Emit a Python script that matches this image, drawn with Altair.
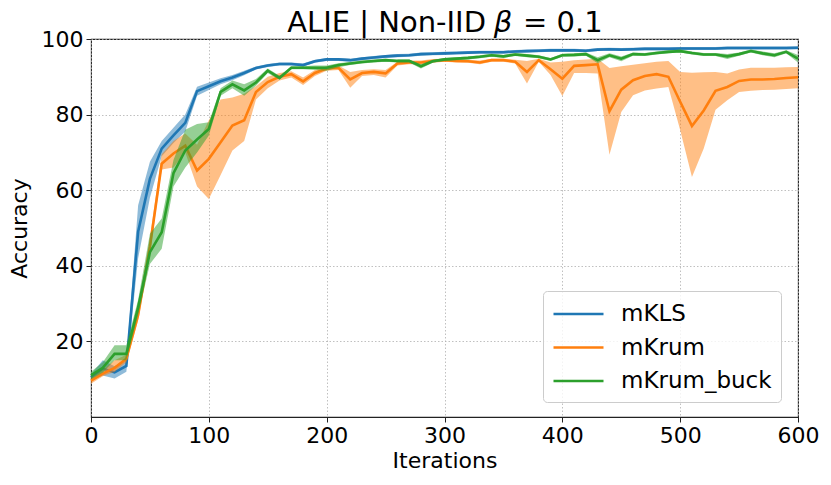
import altair as alt
import pandas as pd

iterations = list(range(0, 601, 10))
series_names = ["mKLS", "mKrum", "mKrum_buck"]
colors = ["#1f77b4", "#ff7f0e", "#2ca02c"]

mkls_mean = [10.5, 12.8, 11.8, 13.5, 49, 63, 71, 74.5, 77.8, 86.2,
             87.5, 88.8, 89.8, 91, 92.3, 93, 93.4, 93.4, 93.1, 94.1,
             94.6, 94.6, 94.4, 94.8, 95.1, 95.4, 95.6, 95.7, 96, 96.1,
             96.2, 96.3, 96.4, 96.5, 96.5, 96.5, 96.7, 96.8, 96.9, 97,
             97, 97, 96.9, 97.2, 97.3, 97.2, 97.3, 97.4, 97.4, 97.4,
             97.5, 97.5, 97.5, 97.5, 97.6, 97.6, 97.6, 97.6, 97.6, 97.6, 97.7]
mkls_lo = [9.7, 11, 10.2, 12, 42, 58, 69, 72.5, 75.5, 85,
           86.5, 88, 89.1, 90.4, 91.9, 92.6, 93.0, 93.0, 92.7, 93.7,
           94.2, 94.2, 94.0, 94.4, 94.7, 95.0, 95.2, 95.3, 95.6, 95.7,
           95.8, 95.9, 96.0, 96.1, 96.1, 96.1, 96.3, 96.4, 96.5, 96.6,
           96.6, 96.6, 96.5, 96.8, 96.9, 96.8, 96.9, 97.0, 97.0, 97.0,
           97.1, 97.1, 97.1, 97.1, 97.2, 97.2, 97.2, 97.2, 97.2, 97.2, 97.3]
mkls_hi = [11.3, 15, 13.4, 15, 56, 67.5, 73, 76.5, 80, 87.4,
           88.5, 89.6, 90.5, 91.6, 92.7, 93.4, 93.8, 93.8, 93.5, 94.5,
           95.0, 95.0, 94.8, 95.2, 95.5, 95.8, 96.0, 96.1, 96.4, 96.5,
           96.6, 96.7, 96.8, 96.9, 96.9, 96.9, 97.1, 97.2, 97.3, 97.4,
           97.4, 97.4, 97.3, 97.6, 97.7, 97.6, 97.7, 97.8, 97.8, 97.8,
           97.9, 97.9, 97.9, 97.9, 98.0, 98.0, 98.0, 98.0, 98.0, 98.0, 98.1]

mkrum_mean = [9.6, 11.5, 13, 15.4, 27, 45, 67, 69.7, 71.8, 65.2,
              68.3, 72.7, 77.1, 78.5, 86, 88.6, 90, 90.7, 88.8, 91,
              92.2, 92.4, 89.3, 91, 91.3, 90.9, 93.5, 93.8, 93.8, 94.2,
              94.4, 94.2, 94.1, 93.8, 94.4, 94.4, 94, 91.3, 94.4, 92,
              89.5, 92.9, 93.1, 93.3, 80.9, 86.6, 89.1, 90.2, 90.7, 90,
              83.4, 77, 81.1, 86.3, 87.3, 88.9, 89.3, 89.3, 89.4, 89.7, 89.9]
mkrum_lo = [8.8, 10.8, 12, 14.5, 25.5, 43, 65.5, 66, 70, 61,
            57.7, 64, 70.5, 73, 84, 87, 89, 89.8, 87.8, 90.2,
            91.6, 91.8, 87.1, 90.2, 90.5, 89.8, 93, 93.3, 93.3, 93.7,
            94, 93.8, 93.7, 93.3, 94, 94, 93.5, 88.2, 94, 90.5,
            84.9, 91, 91, 90.9, 69.4, 80.7, 85.1, 86.4, 86.9, 87.3,
            75.9, 63.5, 71, 81.3, 83.8, 86, 86.3, 86.5, 86.6, 86.8, 87]
mkrum_hi = [10.4, 12.5, 15, 16.5, 28.5, 47.5, 69.5, 73, 75, 72,
            78.5, 84, 84.5, 85.5, 87.5, 90, 91, 91.5, 89.8, 91.8,
            92.8, 93, 91.3, 91.8, 92, 91.8, 94, 94.3, 94.3, 94.7,
            94.8, 94.6, 94.5, 94.3, 94.8, 94.8, 94.5, 94.2, 94.8, 93.8,
            94, 94.4, 94.6, 94.8, 92.3, 92.8, 93.2, 93.6, 94, 94.2,
            91.3, 91.1, 91.2, 91.3, 90.9, 91.9, 92.4, 92.4, 92.4, 92.5, 92.6]

buck_mean = [11, 13, 16.7, 16.7, 29, 43.6, 48.9, 64.5, 70.5, 73.4,
             76.2, 86, 88, 86.4, 88.5, 91.6, 89.7, 92.4, 92.4, 92.4,
             92.4, 93.1, 93.5, 93.9, 94.2, 94.4, 94.2, 94.2, 92.8, 94.1,
             94.6, 94.8, 95, 95.3, 95.7, 95.4, 95.9, 95.6, 95.3, 94.6,
             95.7, 95.8, 96, 94.4, 95.7, 94.8, 96, 95.9, 96.3, 96.6,
             96.8, 96.3, 95.9, 95.9, 95.4, 96, 96.8, 96.2, 95.7, 96.6, 94.8]
buck_lo = [10, 11.8, 15, 15, 27, 40.5, 44.5, 61, 66, 70,
           74.5, 85, 87, 85, 87.6, 91, 89.2, 92, 92, 91.8,
           91.6, 92.5, 93.1, 93.5, 93.8, 94, 93.8, 93.8, 92.2, 93.7,
           94.2, 94.4, 94.6, 94.9, 95.3, 95, 95.5, 95.2, 94.9, 94.2,
           95.3, 95.4, 95.6, 93.6, 95.2, 94.1, 95.6, 95.5, 95.9, 96.2,
           96.4, 95.9, 95.5, 95.5, 94.7, 95.6, 96.4, 95.7, 95.2, 96.2, 93.8]
buck_hi = [12, 14.5, 19, 19, 31, 48.5, 52.5, 68, 76, 77.5,
           78, 87, 89, 88, 89.4, 92.2, 90.3, 92.8, 92.8, 93,
           93, 93.6, 93.9, 94.3, 94.6, 94.8, 94.6, 94.6, 93.3, 94.5,
           95, 95.2, 95.4, 95.7, 96.1, 95.8, 96.3, 96, 95.7, 95,
           96.1, 96.2, 96.4, 95.2, 96.2, 95.4, 96.4, 96.3, 96.7, 97,
           97.2, 96.7, 96.3, 96.3, 96.0, 96.4, 97.2, 96.7, 96.2, 97, 95.8]

title_parts = ["ALIE | Non-IID", "β", "= 0.1"]

rows = []
for name, m, lo, hi in [("mKLS", mkls_mean, mkls_lo, mkls_hi),
                        ("mKrum", mkrum_mean, mkrum_lo, mkrum_hi),
                        ("mKrum_buck", buck_mean, buck_lo, buck_hi)]:
    for it, a, b, c in zip(iterations, m, lo, hi):
        rows.append({"iter": it, "series": name, "mean": a, "lo": b, "hi": c})
df = pd.DataFrame(rows)

FONT = "DejaVu Sans"

x_enc = alt.X("iter:Q",
              scale=alt.Scale(domain=[0, 600], nice=False),
              axis=alt.Axis(values=[0, 100, 200, 300, 400, 500, 600],
                            title="Iterations", labelFlush=False,
                            labelOverlap=False))
y_enc_kwargs = dict(
    scale=alt.Scale(domain=[0, 100], nice=False, zero=False),
    axis=alt.Axis(values=[20, 40, 60, 80, 100], title="Accuracy",
                  labelOverlap=False))

fill_scale = alt.Scale(domain=series_names, range=colors)

layers = []
for name in series_names:
    base = alt.Chart(df).transform_filter(alt.datum.series == name)
    area = base.mark_area(opacity=0.5, strokeWidth=0).encode(
        x=x_enc,
        y=alt.Y("lo:Q", **y_enc_kwargs),
        y2="hi:Q",
        fill=alt.Fill("series:N", scale=fill_scale, legend=None),
    )
    line = base.mark_line(strokeWidth=2.6).encode(
        x=x_enc,
        y=alt.Y("mean:Q", **y_enc_kwargs),
        stroke=alt.Stroke("series:N", scale=fill_scale,
                          legend=alt.Legend(title=None, orient="none",
                                            legendX=452, legendY=252)),
    )
    layers += [area, line]

# Title as text marks (plot-area pixel coordinates), with italic beta
tdf = pd.DataFrame({"t": [0]})
title1 = alt.Chart(tdf).mark_text(
    text=title_parts[0], font=FONT, fontSize=29, align="right",
    baseline="alphabetic", color="black"
).encode(x=alt.value(395), y=alt.value(-7))
title2 = alt.Chart(tdf).mark_text(
    text=title_parts[1], font=FONT, fontSize=29, fontStyle="italic",
    align="center", baseline="alphabetic", color="black"
).encode(x=alt.value(412), y=alt.value(-7))
title3 = alt.Chart(tdf).mark_text(
    text=title_parts[2], font=FONT, fontSize=29, align="left",
    baseline="alphabetic", color="black"
).encode(x=alt.value(432), y=alt.value(-7))
layers += [title1, title2, title3]

chart = alt.layer(*layers).resolve_scale(fill="independent").properties(
    width=707,
    height=378,
    autosize=alt.AutoSizeParams(type="none"),
    padding={"left": 83, "top": 31, "right": 25, "bottom": 60},
).configure_view(
    stroke="#222222", strokeWidth=1.1
).configure_axis(
    labelFont=FONT, labelFontSize=22, labelColor="black",
    titleFont=FONT, titleFontSize=22, titleFontWeight="normal", titleColor="black",
    tickSize=5, tickColor="#222222", tickWidth=1, labelPadding=3,
    domain=False,
    grid=True, gridColor="#b0b0b0", gridDash=[1.5, 2], gridWidth=0.8,
).configure_axisX(
    titlePadding=4
).configure_axisY(
    titlePadding=10
).configure_legend(
    labelFont=FONT, labelFontSize=23, labelColor="black",
    symbolType="M-1,0H3", symbolSize=625, symbolStrokeWidth=2.6,
    labelOffset=41, rowPadding=7.5, padding=9,
    strokeColor="#cccccc", fillColor="rgba(255,255,255,0.8)", cornerRadius=4,
)

chart.save("out.html", embed_options={"renderer": "svg", "actions": False})
